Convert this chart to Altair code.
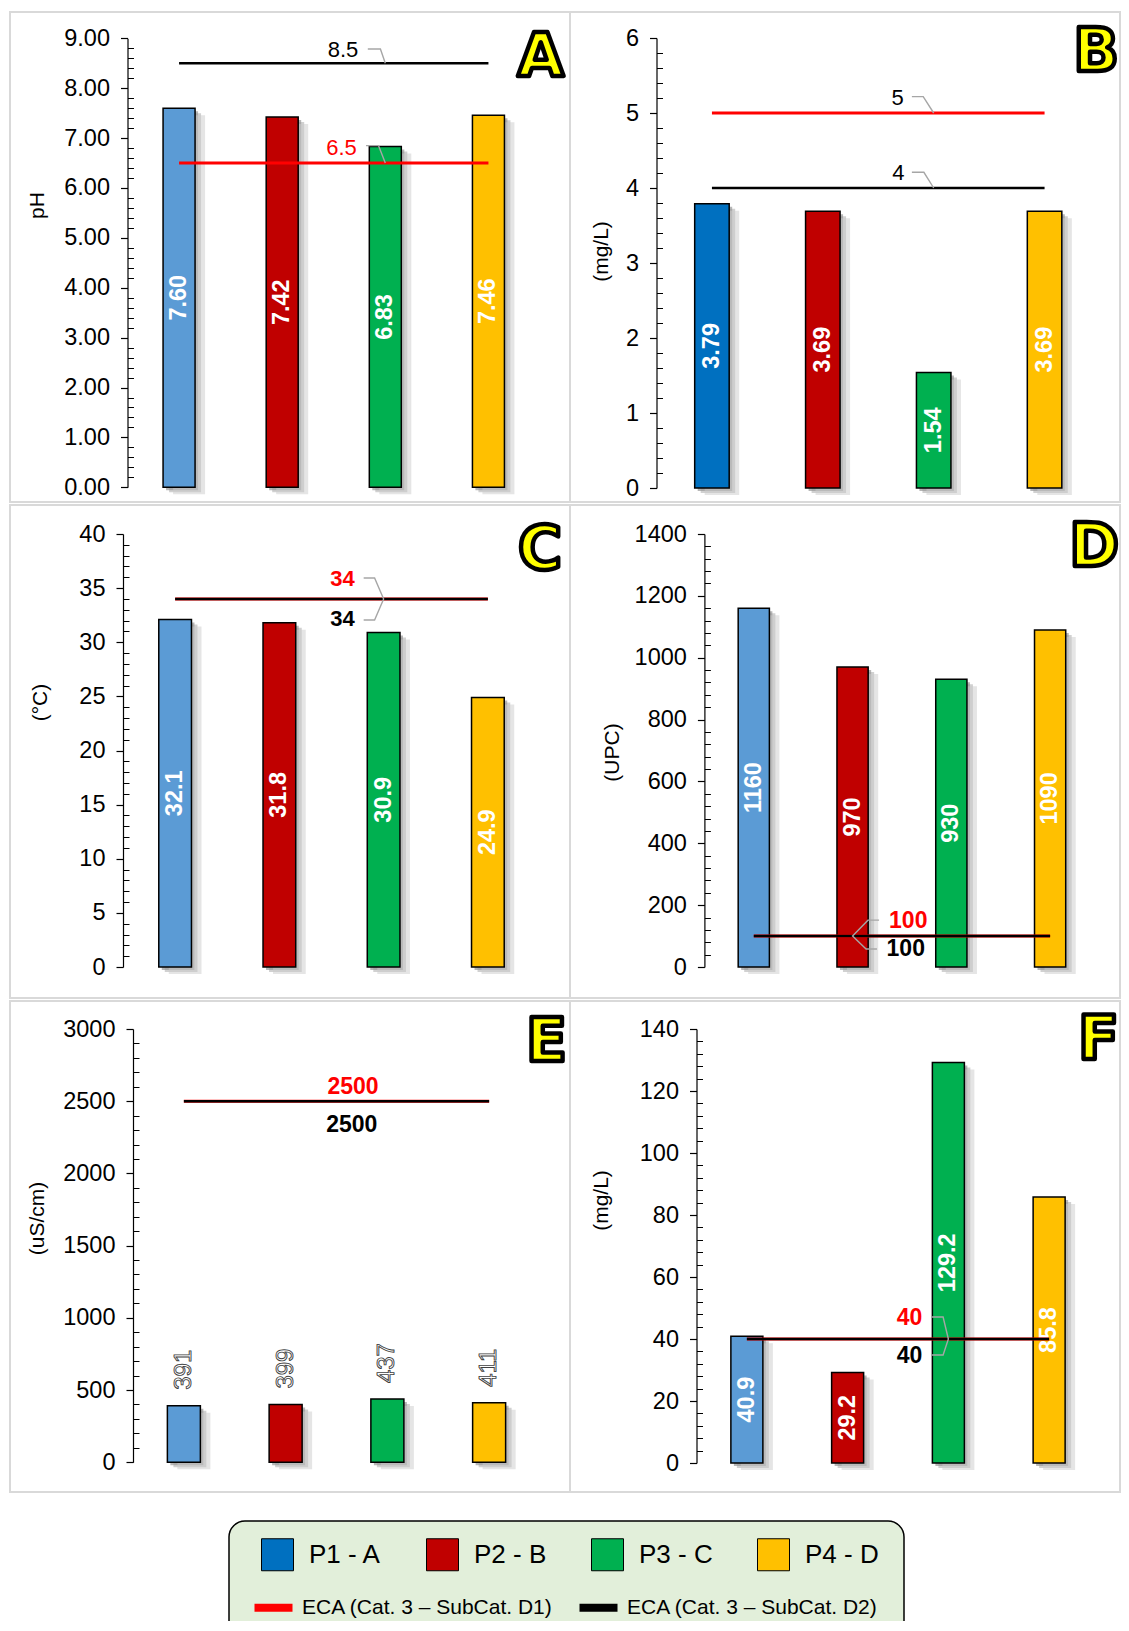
import altair as alt
import pandas as pd

# ---------------- data ----------------
CATS = ["P1 - A", "P2 - B", "P3 - C", "P4 - D"]
PH = [7.60, 7.42, 6.83, 7.46]
OXYGEN = [3.79, 3.69, 1.54, 3.69]
TEMPERATURE = [32.1, 31.8, 30.9, 24.9]
COLOR_UPC = [1160, 970, 930, 1090]
CONDUCTIVITY = [391, 399, 437, 411]
PANEL_F = [40.9, 29.2, 129.2, 85.8]

ECA_D1 = {"A": 6.5, "B": 5, "C": 34, "D": 100, "E": 2500, "F": 40}
ECA_D2 = {"A": 8.5, "B": 4, "C": 34, "D": 100, "E": 2500, "F": 40}
NORMS = ["ECA (Cat. 3 – SubCat. D1)", "ECA (Cat. 3 – SubCat. D2)"]

BLUE_LIGHT = "#5B9BD5"
BLUE = "#0070C0"
RED = "#C00000"
GREEN = "#00B050"
YELLOW = "#FFC000"
LINE_RED = "#FF0000"
LINE_BLACK = "#000000"
FONT = "Liberation Sans"
LETTER_FONT = "DejaVu Sans"
LEADER = "#A6A6A6"


def ticks(lo, hi, step):
    n = int(round((hi - lo) / step))
    return [round(lo + i * step, 6) for i in range(n + 1)]


def panel(key, values, fmt, first_color, ydom, major, minor, title, g,
          labels, leaders, inside=True, bar_w=32, axis_fmt="d"):
    W, H = g["size"]
    x0, x1 = g["x"]
    yb, yt = g["y"]
    df = pd.DataFrame({
        "cat": CATS,
        "v": values,
        "fill": [first_color, RED, GREEN, YELLOW],
        "lbl": [format(v, fmt) for v in values],
    })
    majors = ticks(ydom[0], ydom[1], major)
    minors = [m for m in ticks(ydom[0], ydom[1], minor)
              if abs(m / major - round(m / major)) > 1e-6]

    xs = alt.Scale(domain=CATS, range=[x0, x1], paddingInner=0, paddingOuter=0)
    ys = alt.Scale(domain=ydom, range=[yb, yt], nice=False, zero=True)
    X = alt.X("cat:N", scale=xs, sort=CATS, axis=None)
    X_axis = alt.X("cat:N", scale=xs, sort=CATS, axis=alt.Axis(
        orient="bottom", offset=-(H - yb), labels=False, title=None,
        tickSize=7, domainWidth=1.2, tickWidth=1.2, grid=False))
    Y = alt.Y("v:Q", scale=ys, axis=None)
    Y_main = alt.Y("v:Q", scale=ys, axis=alt.Axis(
        orient="left", offset=-x0, values=majors, format=axis_fmt,
        tickSize=7, tickWidth=1.2, domainWidth=1.2, labelPadding=11,
        labelFontSize=23.5, title=title, titleX=g["tx"] - x0, titleY=g["ty"],
        titleAngle=270, titleAlign="center", titleBaseline="middle",
        titleFontSize=21, titleFontWeight="normal", grid=False))
    Y_minor = alt.Y("v:Q", scale=ys, axis=alt.Axis(
        orient="left", offset=-(x0 + 6), values=minors, tickSize=6,
        tickWidth=1, labels=False, domain=False, title=None, grid=False))

    base = alt.Chart(df)
    shadow1 = base.mark_bar(width=bar_w, xOffset=3, yOffset=3, color="#6f6f6f",
                            opacity=0.5).encode(x=X, y=Y_minor)
    shadow2 = base.mark_bar(width=bar_w, xOffset=6, yOffset=5, color="#9a9a9a",
                            opacity=0.45).encode(x=X, y=Y)
    shadow3 = base.mark_bar(width=bar_w, xOffset=10, yOffset=7, color="#cccccc",
                            opacity=0.5).encode(x=X, y=Y)
    bars = base.mark_bar(width=bar_w, stroke="black", strokeWidth=1.5).encode(
        x=X_axis, y=Y_main, fill=alt.Fill("fill:N", scale=None))

    if inside:
        vlabels = base.transform_calculate(mid="datum.v / 2").mark_text(
            angle=270, align="center", baseline="middle", fontSize=23.5,
            fontWeight="bold", color="white", font=FONT).encode(
            x=X, y=alt.Y("mid:Q", scale=ys, axis=None), text="lbl:N")
    else:
        vlabels = base.mark_text(
            angle=270, align="left", baseline="middle", dx=16, fontSize=24,
            fill="white", stroke="#404040", strokeWidth=0.9, font=FONT).encode(
            x=X, y=Y, text="lbl:N")

    red_line = alt.Chart(pd.DataFrame({"cat": CATS, "v": [ECA_D1[key]] * 4})).mark_line(
        color=LINE_RED, strokeWidth=3).encode(x=X, y=Y)
    black_line = alt.Chart(pd.DataFrame({"cat": CATS, "v": [ECA_D2[key]] * 4})).mark_line(
        color=LINE_BLACK, strokeWidth=2.5).encode(x=X, y=Y)

    lab_layers = []
    for lb in labels:
        d = pd.DataFrame({"cat": [lb["anchor"]], "v": [lb["value"]], "t": [lb["text"]]})
        lab_layers.append(alt.Chart(d).mark_text(
            color=lb["color"], fontWeight=lb["weight"], fontSize=lb.get("size", 22),
            align=lb["align"], baseline="middle", dx=lb["dx"], dy=lb["dy"], font=FONT
        ).encode(x=X, y=Y, text="t:N"))
    for ld in leaders:
        d = pd.DataFrame({"cat": [ld["anchor"]], "v": [ld["value"]]})
        lab_layers.append(alt.Chart(d).mark_point(
            shape=ld["path"], size=(2 * ld["r"]) ** 2, filled=False, color=LEADER,
            strokeWidth=1.4, opacity=1).encode(x=X, y=Y))

    letter = alt.Chart(pd.DataFrame({"t": [key]})).mark_text(
        fontSize=60, fontWeight="bold", fill="#FFFF00", stroke="black",
        strokeWidth=4.5, strokeJoin="round", align=g.get("lalign", "left"),
        baseline="alphabetic", font=LETTER_FONT).encode(
        text="t:N", x=alt.value(g["letter"][0]), y=alt.value(g["letter"][1]))

    return alt.layer(shadow1, shadow2, shadow3, bars, vlabels, red_line, black_line,
                     *lab_layers, letter).resolve_axis(y="independent").properties(
        width=W, height=H,
        view=alt.ViewBackground(stroke="#D9D9D9", strokeWidth=2, fill="white"))


RIGHT_W = 550

# ---------------- panels ----------------
pA = panel(
    "A", PH, ".2f", BLUE_LIGHT, [0, 9], 1, 0.2, "pH",
    {"size": (560, 490), "x": (117.5, 530), "y": (475.3, 26.3), "tx": 27, "ty": 193,
     "letter": (507.5, 64)},
    labels=[
        {"anchor": "P3 - C", "value": ECA_D2["A"], "text": "8.5", "color": "black",
         "weight": "normal", "align": "right", "dx": -27, "dy": -13},
        {"anchor": "P3 - C", "value": ECA_D1["A"], "text": "6.5", "color": LINE_RED,
         "weight": "normal", "align": "right", "dx": -28.5, "dy": -15},
    ],
    leaders=[
        {"anchor": "P3 - C", "value": ECA_D2["A"], "r": 17.5, "path": "M-1,-0.81L-0.28,-0.81L0,0"},
        {"anchor": "P3 - C", "value": ECA_D1["A"], "r": 19.3, "path": "M-1,-0.9L-0.35,-0.9L0,0"},
    ],
    bar_w=32, axis_fmt=".2f")

pB = panel(
    "B", OXYGEN, ".2f", BLUE, [0, 6], 1, 0.2, "(mg/L)",
    {"size": (RIGHT_W, 490), "x": (86.5, 530), "y": (476, 26), "tx": 31.5, "ty": 239,
     "letter": (RIGHT_W - 1, 59), "lalign": "right"},
    labels=[
        {"anchor": "P3 - C", "value": ECA_D1["B"], "text": "5", "color": "black",
         "weight": "normal", "align": "right", "dx": -30, "dy": -14.7},
        {"anchor": "P3 - C", "value": ECA_D2["B"], "text": "4", "color": "black",
         "weight": "normal", "align": "right", "dx": -29.3, "dy": -14.7},
    ],
    leaders=[
        {"anchor": "P3 - C", "value": ECA_D1["B"], "r": 21.8, "path": "M-1,-0.75L-0.48,-0.75L0,0"},
        {"anchor": "P3 - C", "value": ECA_D2["B"], "r": 21.8, "path": "M-1,-0.72L-0.45,-0.72L0,0"},
    ],
    bar_w=34.5)

pC = panel(
    "C", TEMPERATURE, ".1f", BLUE_LIGHT, [0, 40], 5, 1, "(°C)",
    {"size": (560, 493), "x": (113, 530), "y": (462, 29), "tx": 30, "ty": 197,
     "letter": (508, 64)},
    labels=[
        {"anchor": "P3 - C", "value": ECA_D1["C"], "text": "34", "color": LINE_RED,
         "weight": "bold", "align": "right", "dx": -29, "dy": -20},
        {"anchor": "P3 - C", "value": ECA_D2["C"], "text": "34", "color": "black",
         "weight": "bold", "align": "right", "dx": -29, "dy": 20},
    ],
    leaders=[
        {"anchor": "P3 - C", "value": ECA_D1["C"], "r": 21,
         "path": "M-0.95,-1L-0.43,-1L0,0L-0.43,1L-0.95,1"},
    ],
    bar_w=32.7)

pD = panel(
    "D", COLOR_UPC, "d", BLUE_LIGHT, [0, 1400], 200, 40, "(UPC)",
    {"size": (RIGHT_W, 493), "x": (134.4, 529.5), "y": (462, 29), "tx": 42, "ty": 247,
     "letter": (RIGHT_W - 1, 61), "lalign": "right"},
    labels=[
        {"anchor": "P2 - B", "value": ECA_D1["D"], "text": "100", "color": LINE_RED,
         "weight": "bold", "align": "left", "dx": 36.5, "dy": -15, "size": 23},
        {"anchor": "P2 - B", "value": ECA_D2["D"], "text": "100", "color": "black",
         "weight": "bold", "align": "left", "dx": 34, "dy": 13, "size": 23},
    ],
    leaders=[
        {"anchor": "P2 - B", "value": ECA_D1["D"], "r": 26.5,
         "path": "M1,-0.6L0.58,-0.6L0,0L0.51,0.49L0.92,0.49"},
    ],
    bar_w=31.2)

pE = panel(
    "E", CONDUCTIVITY, "d", BLUE_LIGHT, [0, 3000], 500, 100, "(uS/cm)",
    {"size": (560, 491), "x": (123, 530), "y": (461.2, 28), "tx": 27.5, "ty": 217,
     "letter": (516, 60)},
    labels=[
        {"anchor": "P3 - C", "value": ECA_D1["E"], "text": "2500", "color": LINE_RED,
         "weight": "bold", "align": "center", "dx": -34.4, "dy": -14.5, "size": 23},
        {"anchor": "P3 - C", "value": ECA_D2["E"], "text": "2500", "color": "black",
         "weight": "bold", "align": "center", "dx": -35.6, "dy": 24, "size": 23},
    ],
    leaders=[],
    inside=False, bar_w=33)

pF = panel(
    "F", PANEL_F, ".1f", BLUE_LIGHT, [0, 140], 20, 4, "(mg/L)",
    {"size": (RIGHT_W, 491), "x": (126.5, 529.5), "y": (462, 28), "tx": 31, "ty": 199,
     "letter": (RIGHT_W - 1, 58), "lalign": "right"},
    labels=[
        {"anchor": "P3 - C", "value": ECA_D1["F"], "text": "40", "color": LINE_RED,
         "weight": "bold", "align": "right", "dx": -26, "dy": -21, "size": 23},
        {"anchor": "P3 - C", "value": ECA_D2["F"], "text": "40", "color": "black",
         "weight": "bold", "align": "right", "dx": -26, "dy": 17, "size": 23},
    ],
    leaders=[
        {"anchor": "P3 - C", "value": ECA_D1["F"], "r": 22,
         "path": "M-0.78,-1L-0.24,-1L0,0L-0.24,0.73L-0.78,0.73"},
    ],
    bar_w=32)

# ---------------- legend ----------------
box = alt.Chart(pd.DataFrame({"b": [0]})).mark_rect(
    fill="#E2EFDA", stroke="black", strokeWidth=1.5, cornerRadius=16, clip=True
).encode(x=alt.value(1), x2=alt.value(676), y=alt.value(1), y2=alt.value(140))

leg_sq = alt.Chart(pd.DataFrame({"series": CATS, "z": [0] * 4})).transform_filter(
    "false").mark_square(stroke="black", strokeWidth=1, opacity=1).encode(
    x=alt.X("z:Q", axis=None), y=alt.Y("z:Q", axis=None),
    fill=alt.Fill("series:N", sort=CATS,
                  scale=alt.Scale(domain=CATS, range=[BLUE, RED, GREEN, YELLOW]),
                  legend=alt.Legend(title=None, orient="none", legendX=251, legendY=18,
                                    direction="horizontal", columns=4, symbolType="square",
                                    symbolSize=1024, symbolStrokeColor="black",
                                    symbolStrokeWidth=1, symbolOpacity=1,
                                    labelFontSize=26, labelColor="black", labelFont=FONT,
                                    labelOffset=15, columnPadding=42, labelLimit=0)))
leg_ln = alt.Chart(pd.DataFrame({"norm": NORMS, "z": [0] * 2})).transform_filter(
    "false").mark_line(strokeWidth=8).encode(
    x=alt.X("z:Q", axis=None), y=alt.Y("z:Q", axis=None),
    stroke=alt.Stroke("norm:N", sort=NORMS,
                      scale=alt.Scale(domain=NORMS, range=[LINE_RED, LINE_BLACK]),
                      legend=alt.Legend(title=None, orient="none", legendX=253, legendY=77,
                                        direction="horizontal", columns=2,
                                        symbolType="M-4,0H4", symbolSize=90.25,
                                        symbolStrokeWidth=8, symbolOpacity=1,
                                        labelFontSize=21, labelColor="black", labelFont=FONT,
                                        labelOffset=18, columnPadding=10, labelLimit=0)))
legend_box = alt.layer(box, leg_sq, leg_ln).properties(
    width=677, height=101,
    view=alt.ViewBackground(strokeOpacity=0, fillOpacity=0))

spacer = alt.Chart(pd.DataFrame({"s": [0]})).mark_point(opacity=0).properties(
    width=218, height=10, view=alt.ViewBackground(strokeOpacity=0, fillOpacity=0))

grid = alt.vconcat(
    alt.hconcat(pA, pB, spacing=0, bounds="flush"),
    alt.hconcat(pC, pD, spacing=0, bounds="flush"),
    alt.hconcat(pE, pF, spacing=0, bounds="flush"),
    spacing=1)
legend_row = alt.hconcat(spacer, legend_box, spacing=0, bounds="flush")

chart = alt.vconcat(grid, legend_row, spacing=27).properties(
    padding={"left": 1, "top": 3, "right": 0, "bottom": 0},
    background="white",
).resolve_scale(fill="independent", stroke="independent").configure(font=FONT).configure_axis(
    labelFont=FONT, titleFont=FONT, labelColor="black", titleColor="black",
    domainColor="black", tickColor="black"
).configure_view(stroke="#D9D9D9")

chart.save("out.html", embed_options={"renderer": "svg", "actions": False})
